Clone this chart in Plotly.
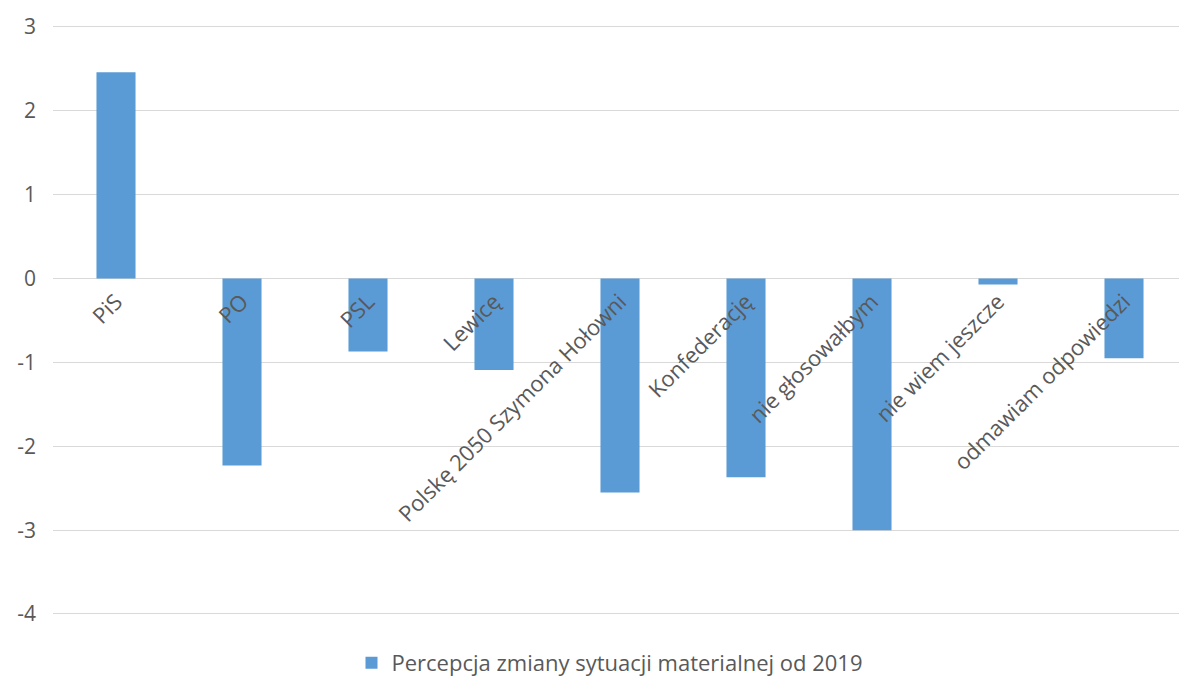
import plotly.graph_objects as go

categories = ["PiS", "PO", "PSL", "Lewicę", "Polskę 2050 Szymona Hołowni",
              "Konfederację", "nie głosowałbym", "nie wiem jeszcze", "odmawiam odpowiedzi"]
values = [2.46, -2.23, -0.87, -1.09, -2.55, -2.37, -3.0, -0.07, -0.95]
series_name = "Percepcja zmiany sytuacji materialnej od 2019"
y_ticks = [3, 2, 1, 0, -1, -2, -3, -4]
y_tick_labels = ["3", "2", "1", "0", "-1", "-2", "-3", "-4"]

FONT = "Open Sans"
GRAY = "#595959"
GRID = "#D9D9D9"
BLUE = "#5B9BD5"
FS = 22

# figure fills the window (body margin removed); a little extra height is
# hidden below the fold so the legend does not push the plot margins
W, H = 1179, 700
top_px, bottom_px = 27, 614
y_min, y_max = -4, 3
k = (bottom_px - top_px) / (y_max - y_min)
pad = 0.05
plot_top = top_px - pad * k
plot_bottom = bottom_px + pad * k
dom = [1 - plot_bottom / H, 1 - plot_top / H]
y_lo, y_hi = y_min - pad, y_max + pad
zero_pos = dom[0] + (0 - y_lo) / (y_hi - y_lo) * (dom[1] - dom[0])

left_px = 53
cat_w = 126
x_hi = -0.5 + (W - left_px) / cat_w

fig = go.Figure()
fig.add_trace(go.Bar(
    x=list(range(len(categories))), y=values, name=series_name,
    marker=dict(color=BLUE, line=dict(width=0)), width=0.31,
    showlegend=True, hoverinfo="skip",
))

fig.update_layout(
    width=W, height=H,
    margin=dict(l=left_px, r=0, t=0, b=0),
    paper_bgcolor="white", plot_bgcolor="white",
    font=dict(family=FONT, color=GRAY, size=FS),
    showlegend=True,
    legend=dict(orientation="h", x=(610 - left_px) / (W - left_px), xanchor="center",
                y=(H - 663) / H, yanchor="middle",
                font=dict(size=22, color=GRAY, family=FONT), itemwidth=30),
    xaxis=dict(
        range=[-0.5, x_hi], tickmode="array",
        tickvals=list(range(len(categories))), ticktext=categories,
        tickangle=-45, showgrid=False, zeroline=False, showline=False,
        anchor="free", position=zero_pos, automargin=False, ticks="",
        ticklabelstandoff=5,
        tickfont=dict(size=FS, color=GRAY, family=FONT),
    ),
    yaxis=dict(
        domain=dom,
        range=[y_lo, y_hi], tickmode="array", tickvals=y_ticks, ticktext=y_tick_labels,
        showgrid=True, gridcolor=GRID, gridwidth=1.3,
        zeroline=True, zerolinecolor=GRID, zerolinewidth=1.3,
        showline=False, automargin=False, ticks="",
        ticklabelstandoff=16,
        tickfont=dict(size=FS - 1, color=GRAY, family=FONT),
    ),
)

fig.write_html(
    "out.html",
    config={"displayModeBar": False},
    post_script="document.body.style.margin='0';document.body.style.overflow='hidden';"
                "document.documentElement.style.overflow='hidden';",
)
